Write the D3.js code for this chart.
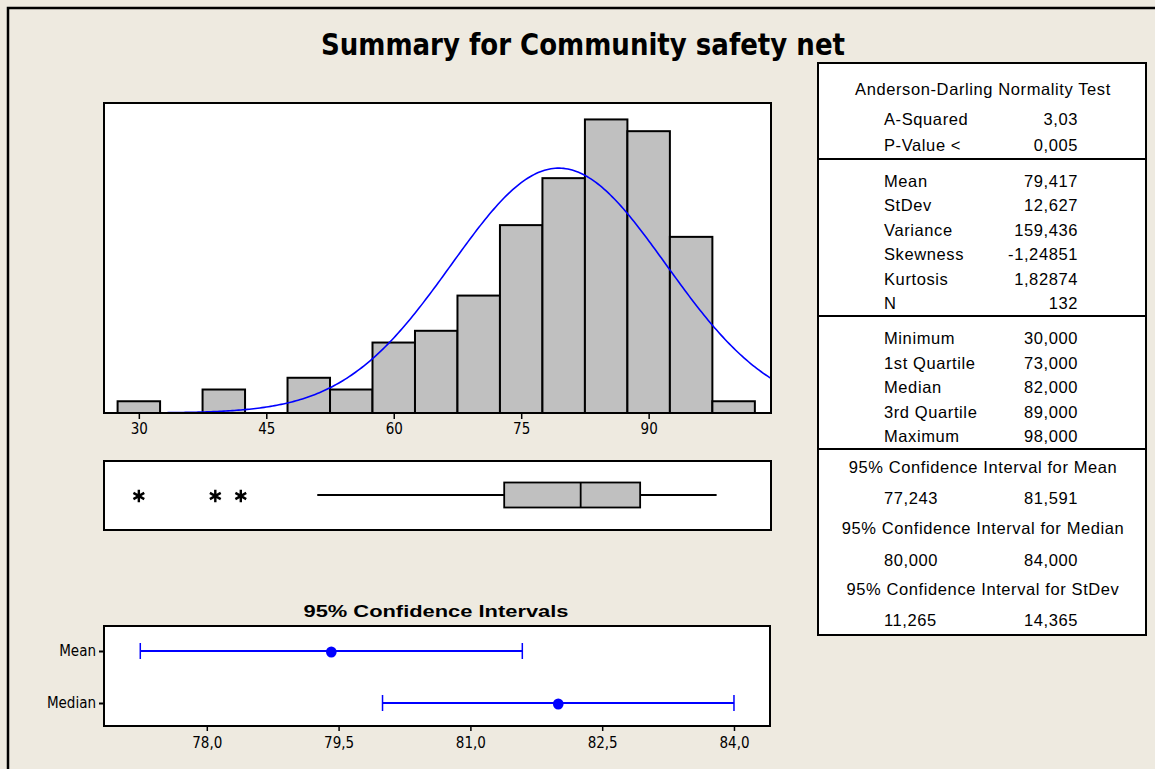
<!DOCTYPE html>
<html>
<head>
<meta charset="utf-8">
<script src="https://cdn.jsdelivr.net/npm/d3@7"></script>
<style>
  body { margin: 0; background: #EEEAE0; }
  svg { display: block; }
  .tick text { font-family: "Liberation Sans Narrow", "DejaVu Sans Condensed", sans-serif; font-stretch: condensed; font-size: 15px; fill: #000; }
  .tbl { font-family: "Liberation Sans", Arial, sans-serif; font-size: 16.5px; letter-spacing: 0.6px; fill: #000; }
</style>
</head>
<body>
<script>
// histogram data (bins of width 5)
var binMids = [30, 35, 40, 45, 50, 55, 60, 65, 70, 75, 80, 85, 90, 95, 100];
var binCounts = [1, 0, 2, 0, 3, 2, 6, 7, 10, 16, 20, 25, 24, 15, 1];
var histTicks = [30, 45, 60, 75, 90];

// summary stats
var mean = 79.417, stdev = 12.627, n = 132;

// boxplot
var outliers = [30, 39, 42];
var boxValues = [51, 73, 82, 89, 98]; // whisker low, q1, median, q3, whisker high

// confidence intervals
var ciLabels = ["Mean", "Median"];
var ciLow = [77.243, 80.0];
var ciCenter = [79.417, 82.0];
var ciHigh = [81.591, 84.0];
var ciTicks = [78.0, 79.5, 81.0, 82.5, 84.0];

// table
var adLabels = ["A-Squared", "P-Value <"];
var adValues = ["3,03", "0,005"];
var descLabels = ["Mean", "StDev", "Variance", "Skewness", "Kurtosis", "N"];
var descValues = ["79,417", "12,627", "159,436", "-1,24851", "1,82874", "132"];
var quantLabels = ["Minimum", "1st Quartile", "Median", "3rd Quartile", "Maximum"];
var quantValues = ["30,000", "73,000", "82,000", "89,000", "98,000"];
var ciTitles = ["95% Confidence Interval for Mean", "95% Confidence Interval for Median", "95% Confidence Interval for StDev"];
var ciRowLow = ["77,243", "80,000", "11,265"];
var ciRowHigh = ["81,591", "84,000", "14,365"];

var fmt = function(d) { return d3.format(".1f")(d).replace(".", ","); };

var svg = d3.select("body").append("svg")
  .attr("width", 1155)
  .attr("height", 769);

// outer frame
svg.append("path")
  .attr("d", "M8,769 V8 H1155")
  .attr("fill", "none")
  .attr("stroke", "#000")
  .attr("stroke-width", 2.5);

// title
svg.append("text")
  .attr("x", 583)
  .attr("y", 55)
  .attr("text-anchor", "middle")
  .attr("textLength", 524)
  .attr("lengthAdjust", "spacingAndGlyphs")
  .style("font-family", "'Liberation Sans Narrow', 'DejaVu Sans Condensed', sans-serif")
  .style("font-stretch", "condensed")
  .style("font-weight", "bold")
  .style("font-size", "30px")
  .text("Summary for Community safety net");

// ---------- histogram ----------
var hist = {left: 104, right: 771, top: 103, bottom: 413};

var x = d3.scaleLinear()
  .domain([25.9, 104.4])
  .range([hist.left, hist.right]);

var y = d3.scaleLinear()
  .domain([0, 26.4])
  .range([hist.bottom, hist.top]);

svg.append("defs").append("clipPath")
  .attr("id", "histClip")
  .append("rect")
  .attr("x", hist.left)
  .attr("y", hist.top)
  .attr("width", hist.right - hist.left)
  .attr("height", hist.bottom - hist.top);

svg.append("rect")
  .attr("x", hist.left)
  .attr("y", hist.top)
  .attr("width", hist.right - hist.left)
  .attr("height", hist.bottom - hist.top)
  .attr("fill", "#fff");

var bins = binMids.map(function(m, i) { return {mid: m, count: binCounts[i]}; });

svg.selectAll(".bar")
  .data(bins.filter(function(d) { return d.count > 0; }))
  .enter().append("rect")
  .attr("class", "bar")
  .attr("x", function(d) { return x(d.mid - 2.5); })
  .attr("y", function(d) { return y(d.count); })
  .attr("width", function(d) { return x(d.mid + 2.5) - x(d.mid - 2.5); })
  .attr("height", function(d) { return y(0) - y(d.count); })
  .attr("fill", "#C0C0C0")
  .attr("stroke", "#000")
  .attr("stroke-width", 2);

// fitted normal curve from mean / stdev
var binWidth = 5;
var curvePts = d3.range(32.5, 104.6, 0.25).map(function(v) {
  var z = (v - mean) / stdev;
  return [v, n * binWidth * Math.exp(-0.5 * z * z) / (stdev * Math.sqrt(2 * Math.PI))];
});

svg.append("path")
  .datum(curvePts)
  .attr("clip-path", "url(#histClip)")
  .attr("fill", "none")
  .attr("stroke", "#0000FF")
  .attr("stroke-width", 1.6)
  .attr("d", d3.line()
    .x(function(d) { return x(d[0]); })
    .y(function(d) { return y(d[1]); }));

svg.append("rect")
  .attr("x", hist.left)
  .attr("y", hist.top)
  .attr("width", hist.right - hist.left)
  .attr("height", hist.bottom - hist.top)
  .attr("fill", "none")
  .attr("stroke", "#000")
  .attr("stroke-width", 2);

svg.append("g")
  .attr("transform", "translate(0," + hist.bottom + ")")
  .call(d3.axisBottom(x).tickValues(histTicks).tickSize(6).tickPadding(4).tickFormat(d3.format("d")))
  .call(function(g) { g.select(".domain").remove(); })
  .call(function(g) { g.selectAll(".tick line").attr("stroke-width", 1.5); });

// ---------- boxplot ----------
var bp = {top: 461, bottom: 530, mid: 495, half: 12.5};

svg.append("rect")
  .attr("x", hist.left)
  .attr("y", bp.top)
  .attr("width", hist.right - hist.left)
  .attr("height", bp.bottom - bp.top)
  .attr("fill", "#fff")
  .attr("stroke", "#000")
  .attr("stroke-width", 2);

svg.append("line")
  .attr("x1", x(boxValues[0])).attr("x2", x(boxValues[1]))
  .attr("y1", bp.mid).attr("y2", bp.mid)
  .attr("stroke", "#000").attr("stroke-width", 1.8);

svg.append("line")
  .attr("x1", x(boxValues[3])).attr("x2", x(boxValues[4]))
  .attr("y1", bp.mid).attr("y2", bp.mid)
  .attr("stroke", "#000").attr("stroke-width", 1.8);

svg.append("rect")
  .attr("x", x(boxValues[1]))
  .attr("y", bp.mid - bp.half)
  .attr("width", x(boxValues[3]) - x(boxValues[1]))
  .attr("height", bp.half * 2)
  .attr("fill", "#C0C0C0")
  .attr("stroke", "#000")
  .attr("stroke-width", 1.8);

svg.append("line")
  .attr("x1", x(boxValues[2])).attr("x2", x(boxValues[2]))
  .attr("y1", bp.mid - bp.half).attr("y2", bp.mid + bp.half)
  .attr("stroke", "#000").attr("stroke-width", 1.8);

var star = d3.symbol().type(d3.symbolAsterisk || d3.symbolCross).size(110);

svg.selectAll(".outlier")
  .data(outliers)
  .enter().append("path")
  .attr("class", "outlier")
  .attr("transform", function(d) { return "translate(" + x(d) + "," + (bp.mid + 1) + ")"; })
  .attr("d", star)
  .attr("fill", "none")
  .attr("stroke", "#000")
  .attr("stroke-width", 2.4);

// ---------- confidence intervals ----------
var ci = {left: 104, right: 770, top: 626, bottom: 726};

var cx = d3.scaleLinear()
  .domain([76.83, 84.41])
  .range([ci.left, ci.right]);

var cy = d3.scalePoint()
  .domain(ciLabels)
  .range([651, 703]);

svg.append("text")
  .attr("x", 436)
  .attr("y", 617)
  .attr("text-anchor", "middle")
  .attr("textLength", 265)
  .attr("lengthAdjust", "spacingAndGlyphs")
  .style("font-family", "'Liberation Sans', Arial, sans-serif")
  .style("font-weight", "bold")
  .style("font-size", "16px")
  .text("95% Confidence Intervals");

svg.append("rect")
  .attr("x", ci.left)
  .attr("y", ci.top)
  .attr("width", ci.right - ci.left)
  .attr("height", ci.bottom - ci.top)
  .attr("fill", "#fff")
  .attr("stroke", "#000")
  .attr("stroke-width", 2);

svg.append("g")
  .attr("transform", "translate(0," + ci.bottom + ")")
  .call(d3.axisBottom(cx).tickValues(ciTicks).tickSize(5).tickPadding(6).tickFormat(fmt))
  .call(function(g) { g.select(".domain").remove(); })
  .call(function(g) { g.selectAll(".tick line").attr("stroke-width", 1.5); });

svg.append("g")
  .attr("transform", "translate(" + ci.left + ",0)")
  .call(d3.axisLeft(cy).tickSize(5).tickPadding(3))
  .call(function(g) { g.select(".domain").remove(); })
  .call(function(g) { g.selectAll(".tick line").attr("stroke-width", 2); });

var ciData = ciLabels.map(function(l, i) {
  return {label: l, lo: ciLow[i], mid: ciCenter[i], hi: ciHigh[i]};
});

var rows = svg.selectAll(".ci")
  .data(ciData)
  .enter().append("g")
  .attr("class", "ci");

rows.append("line")
  .attr("x1", function(d) { return cx(d.lo); })
  .attr("x2", function(d) { return cx(d.hi); })
  .attr("y1", function(d) { return cy(d.label); })
  .attr("y2", function(d) { return cy(d.label); })
  .attr("stroke", "#0000FF")
  .attr("stroke-width", 2);

rows.selectAll(".cap")
  .data(function(d) { return [{v: d.lo, label: d.label}, {v: d.hi, label: d.label}]; })
  .enter().append("line")
  .attr("class", "cap")
  .attr("x1", function(d) { return cx(d.v); })
  .attr("x2", function(d) { return cx(d.v); })
  .attr("y1", function(d) { return cy(d.label) - 8; })
  .attr("y2", function(d) { return cy(d.label) + 8; })
  .attr("stroke", "#0000FF")
  .attr("stroke-width", 1.5);

rows.append("ellipse")
  .attr("cx", function(d) { return cx(d.mid); })
  .attr("cy", function(d) { return cy(d.label) + 1; })
  .attr("rx", 5.3)
  .attr("ry", 5.5)
  .attr("fill", "#0000FF");

// ---------- stats table ----------
var tbl = {left: 818, right: 1146, top: 63, bottom: 635, mid: 983, labelX: 884, valueX: 1078};

svg.append("rect")
  .attr("x", tbl.left)
  .attr("y", tbl.top)
  .attr("width", tbl.right - tbl.left)
  .attr("height", tbl.bottom - tbl.top)
  .attr("fill", "#fff")
  .attr("stroke", "#000")
  .attr("stroke-width", 2);

[159, 316, 449].forEach(function(yy) {
  svg.append("line")
    .attr("x1", tbl.left).attr("x2", tbl.right)
    .attr("y1", yy).attr("y2", yy)
    .attr("stroke", "#000").attr("stroke-width", 2);
});

function addText(txt, xx, yy, anchor) {
  return svg.append("text")
    .attr("class", "tbl")
    .attr("x", xx)
    .attr("y", yy)
    .attr("dy", "0.36em")
    .attr("text-anchor", anchor)
    .text(txt);
}

addText("Anderson-Darling Normality Test", tbl.mid, 89, "middle");

function addRows(labels, values, y0, step) {
  labels.forEach(function(l, i) {
    addText(l, tbl.labelX, y0 + i * step, "start");
    addText(values[i], tbl.valueX, y0 + i * step, "end");
  });
}

addRows(adLabels, adValues, 119, 26);
addRows(descLabels, descValues, 181, 24.4);
addRows(quantLabels, quantValues, 338, 24.6);

var ciTitleY = [467, 528.5, 589];
ciTitles.forEach(function(t, i) {
  addText(t, tbl.mid, ciTitleY[i], "middle");
  addText(ciRowLow[i], tbl.labelX, ciTitleY[i] + 31.5, "start");
  addText(ciRowHigh[i], tbl.valueX, ciTitleY[i] + 31.5, "end");
});
</script>
</body>
</html>
